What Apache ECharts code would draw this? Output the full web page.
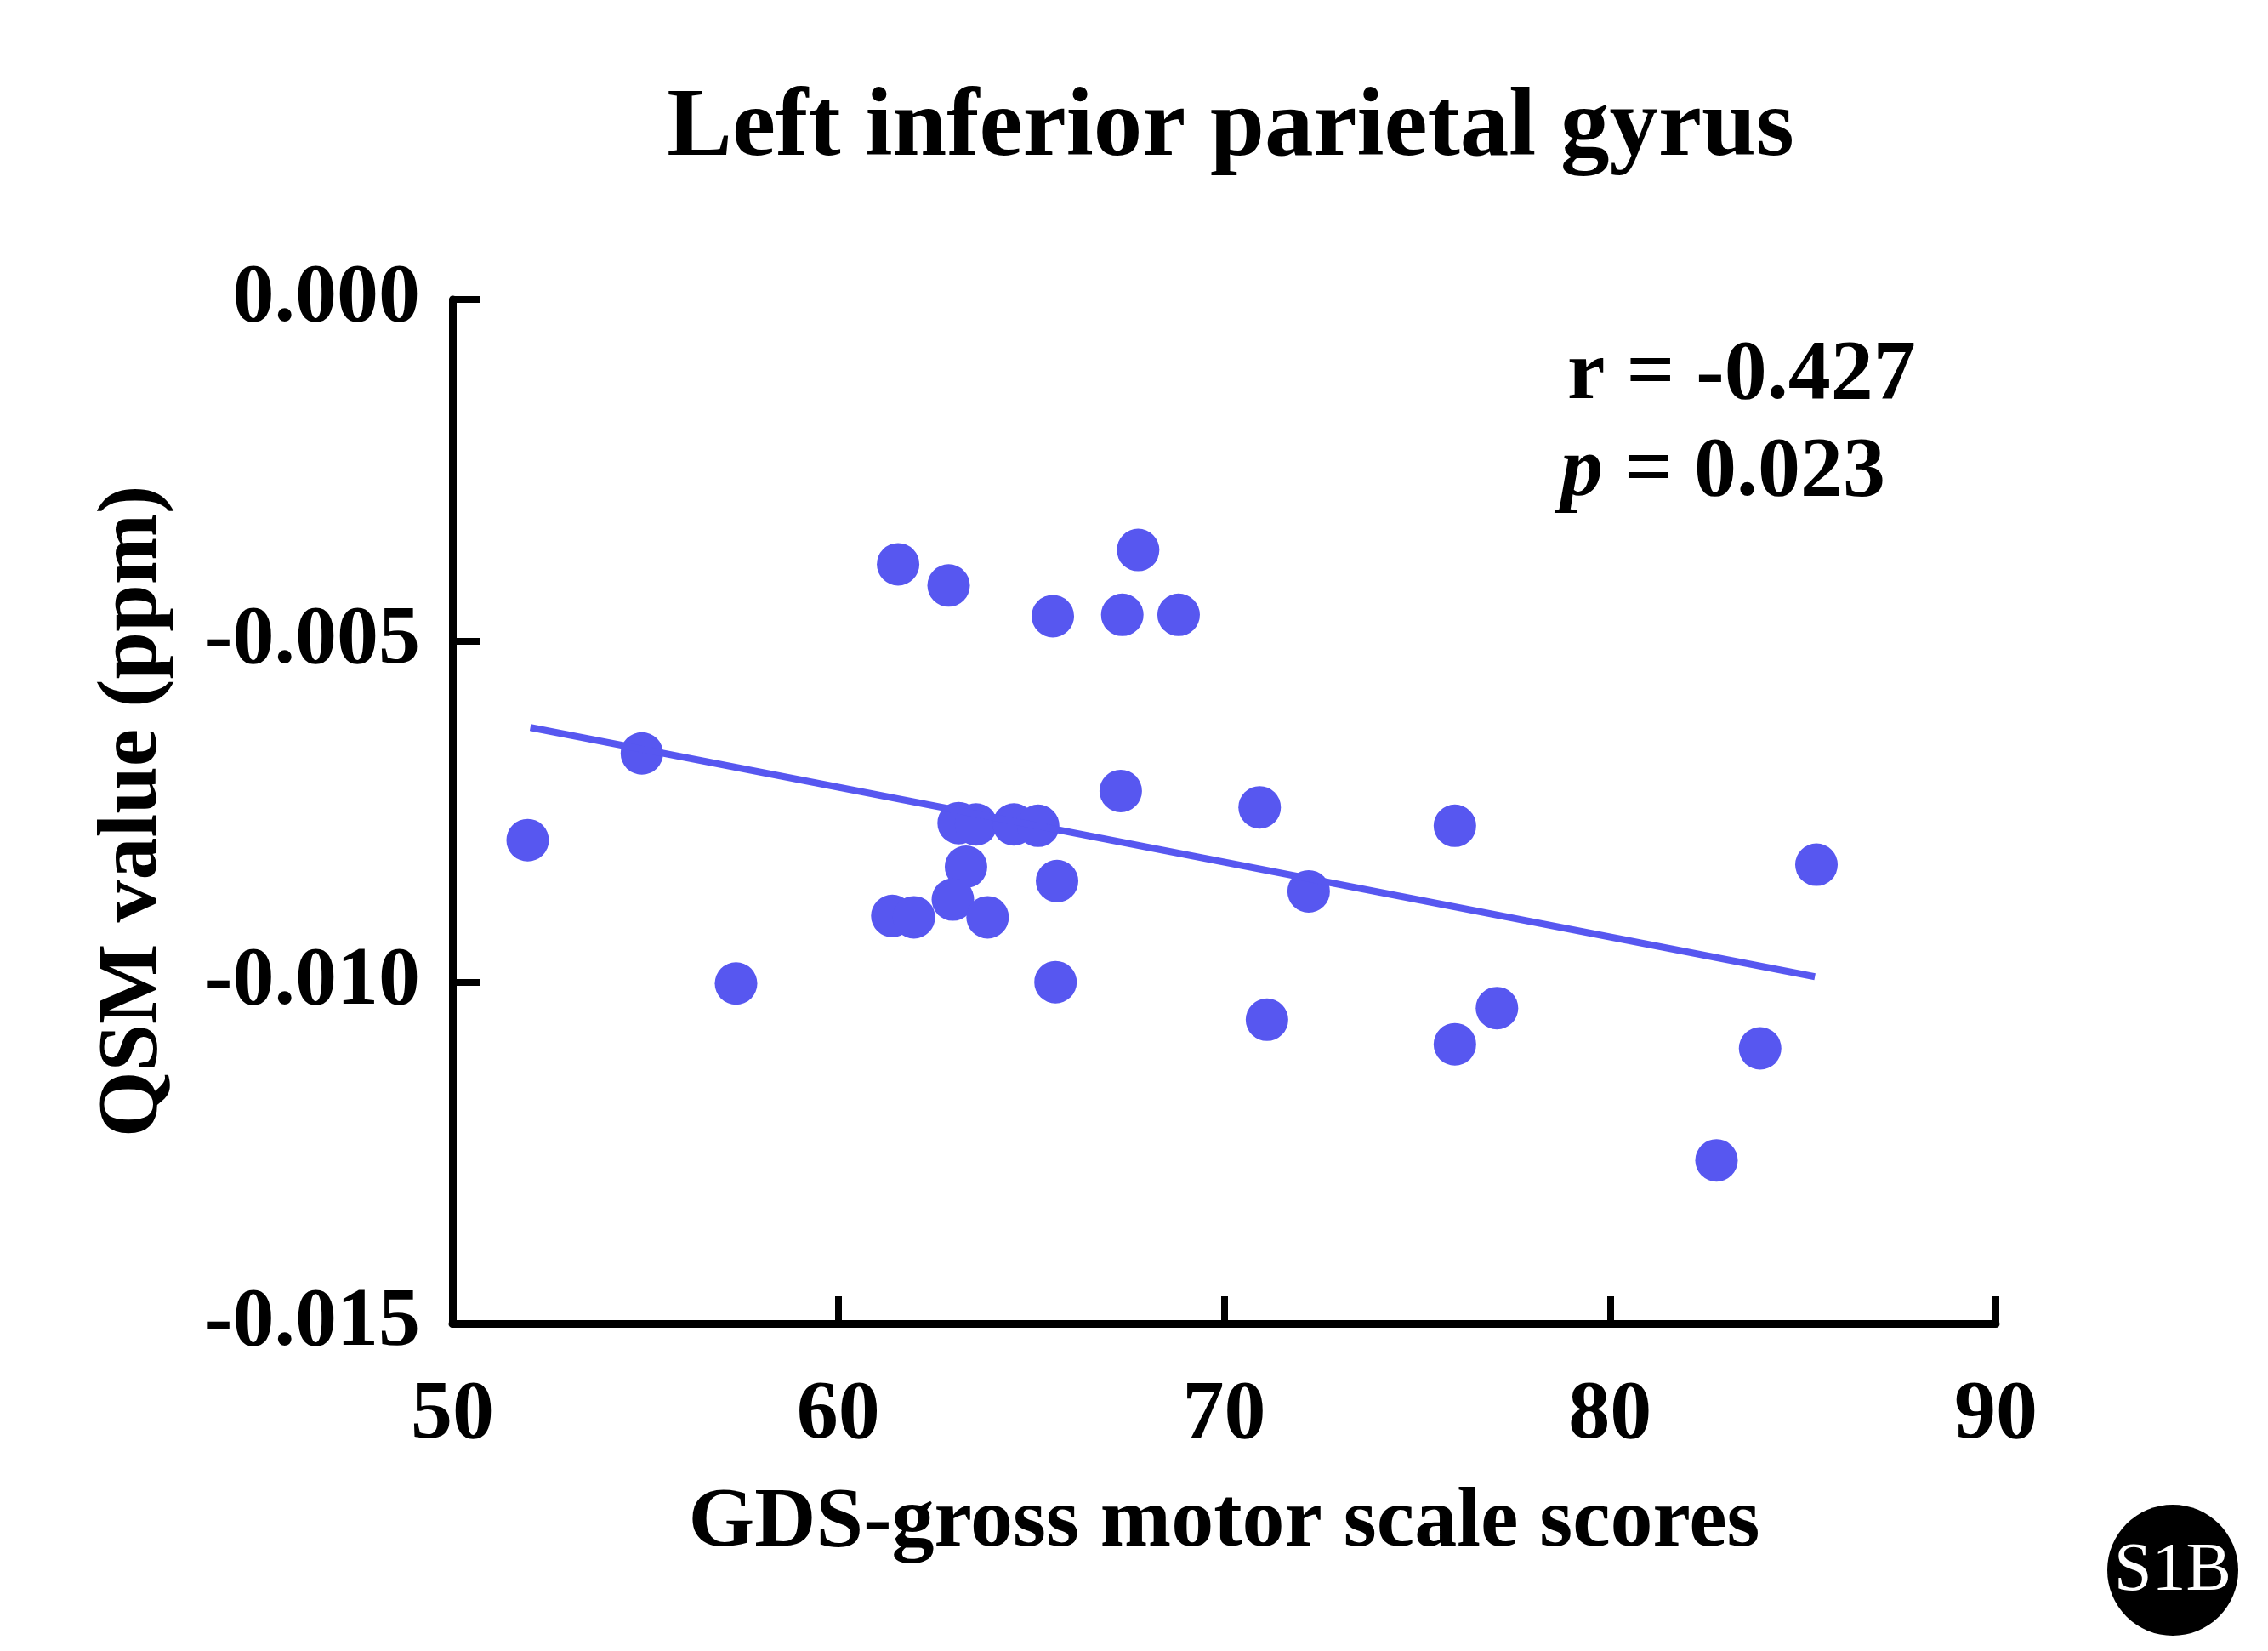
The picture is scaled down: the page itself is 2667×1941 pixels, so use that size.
<!DOCTYPE html>
<html><head><meta charset="utf-8">
<script src="https://cdn.jsdelivr.net/npm/echarts@6/dist/echarts.min.js"></script>
<style>html,body{margin:0;padding:0;background:#fff}#c{width:2667px;height:1941px}</style>
</head><body><div id="c"></div>
<script>
const xValues=[51.95,54.91,57.35,61.55,62.86,65.56,67.36,67.77,68.82,67.32,70.92,63.12,63.57,64.55,65.18,63.31,65.67,61.40,61.96,62.97,63.87,65.63,72.19,71.11,75.98,75.98,77.07,82.76,83.89,85.35];
const yValues=[-0.00792,-0.00665,-0.01002,-0.00388,-0.00419,-0.00464,-0.00462,-0.00367,-0.00462,-0.00720,-0.00744,-0.00767,-0.00769,-0.00769,-0.00771,-0.00831,-0.00852,-0.00903,-0.00905,-0.00879,-0.00905,-0.01000,-0.00867,-0.01055,-0.00771,-0.01091,-0.01038,-0.01261,-0.01097,-0.00828];
const fitX=[52.02,85.31];
const fitY=[-0.00627,-0.00992];
const F='Liberation Serif';
const col='#5757F0';
const chart=echarts.init(document.getElementById('c'));
chart.setOption({
 animation:false,
 title:{text:'Left inferior parietal gyrus',top:90,left:1442,textAlign:'center',textStyle:{fontFamily:F,fontWeight:'bold',fontSize:115,color:'#000'}},
 grid:{left:532,right:320,top:352,bottom:385},
 xAxis:{type:'value',min:50,max:90,interval:10,name:'GDS-gross motor scale scores',nameLocation:'middle',nameGap:185,
  nameTextStyle:{fontFamily:F,fontWeight:'bold',fontSize:100,color:'#000'},
  axisLine:{onZero:false,lineStyle:{color:'#000',width:9}},axisTick:{inside:true,length:32,lineStyle:{color:'#000',width:8}},
  axisLabel:{fontFamily:F,fontWeight:'bold',fontSize:98,color:'#000',margin:60},splitLine:{show:false}},
 yAxis:{type:'value',min:-0.015,max:0,interval:0.005,name:'QSM value (ppm)',nameLocation:'middle',nameGap:325,
  nameTextStyle:{fontFamily:F,fontWeight:'bold',fontSize:100,color:'#000'},
  axisLine:{lineStyle:{color:'#000',width:9}},axisTick:{inside:true,length:32,lineStyle:{color:'#000',width:8}},
  axisLabel:{fontFamily:F,fontWeight:'bold',fontSize:98,color:'#000',margin:38,formatter:v=>v.toFixed(3)},splitLine:{show:false}},
 series:[
  {type:'line',data:fitX.map((x,i)=>[x,fitY[i]]),symbol:'none',lineStyle:{color:col,width:8}},
  {type:'scatter',data:xValues.map((x,i)=>[x,yValues[i]]),symbolSize:50,itemStyle:{color:col,opacity:1}}
 ],
 graphic:[
  {type:'text',left:1843,top:392,style:{text:'r = -0.427',font:'bold 100px "Liberation Serif"',fill:'#000'}},
  {type:'text',left:1835,top:506,style:{rich:{i:{fontFamily:F,fontStyle:'italic',fontWeight:'bold',fontSize:100},n:{fontFamily:F,fontWeight:'bold',fontSize:100}},text:'{i|p}{n| = 0.023}',fill:'#000'}},
  {type:'circle',shape:{cx:2555,cy:1846,r:77},style:{fill:'#000'}},
  {type:'text',x:2555,y:1848,style:{text:'S1B',font:'80px "Liberation Serif"',fill:'#fff',align:'center',verticalAlign:'middle'}}
 ]
});
</script></body></html>
